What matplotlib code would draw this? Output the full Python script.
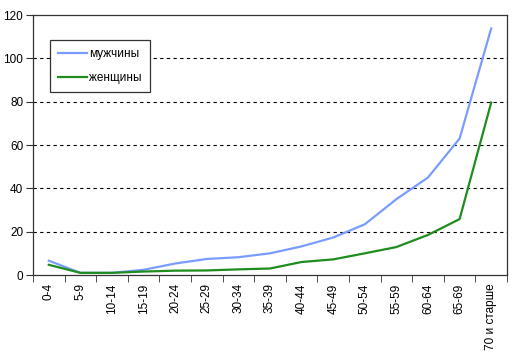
import numpy as np
import matplotlib
matplotlib.use("Agg")
import matplotlib.pyplot as plt

plt.rcParams['font.family'] = ['Liberation Sans', 'DejaVu Sans']

age_groups = ["0-4", "5-9", "10-14", "15-19", "20-24", "25-29", "30-34",
              "35-39", "40-44", "45-49", "50-54", "55-59", "60-64", "65-69",
              "70 и старше"]
men = [6.6, 1.0, 1.0, 2.4, 5.3, 7.4, 8.2, 10.0, 13.2, 17.3, 23.4, 35.0, 45.0, 63.0, 113.8]
women = [4.7, 1.0, 1.0, 1.6, 2.0, 2.1, 2.6, 3.0, 6.0, 7.2, 10.0, 12.9, 18.5, 25.8, 79.6]

fig = plt.figure(figsize=(5.22, 3.52), dpi=100)
ax = fig.add_axes([33 / 522, 1 - 275 / 352, 474 / 522, 260 / 352])

x = np.arange(len(age_groups))
ax.plot(x, men, color="#7b9cff", linewidth=1.6, label="мужчины")
ax.plot(x, women, color="#1f8c1f", linewidth=1.6, label="женщины")

ax.set_xlim(-0.5, len(age_groups) - 0.5)
ax.set_ylim(0, 120)
ax.set_yticks(range(0, 121, 20))
for yv in range(20, 120, 20):
    ax.axhline(yv, color="black", linestyle=(0, (3, 3)), linewidth=0.8, zorder=0)

ax.set_xticks(x)
ax.set_xticklabels(age_groups, rotation=90, fontsize=8.5, va="top")
ax.set_xticks(np.arange(-0.5, len(age_groups)), minor=True)
ax.tick_params(axis="x", which="major", length=0, pad=6)
ax.tick_params(axis="x", which="minor", length=5, color="#333333")
ax.tick_params(axis="y", length=5, labelsize=8.5, color="#333333", pad=2)

for s in ax.spines.values():
    s.set_color("#333333")
    s.set_linewidth(0.9)

leg = ax.legend(loc="upper left", bbox_to_anchor=(50 / 522, 1 - 40 / 352),
                bbox_transform=fig.transFigure, fontsize=8.5, frameon=True,
                fancybox=False, edgecolor="#333333", framealpha=1,
                handlelength=2.4, handletextpad=0.2, labelspacing=1.0,
                borderpad=0.7, borderaxespad=0)
leg.get_frame().set_linewidth(0.9)

fig.savefig("out.png", dpi=100)
